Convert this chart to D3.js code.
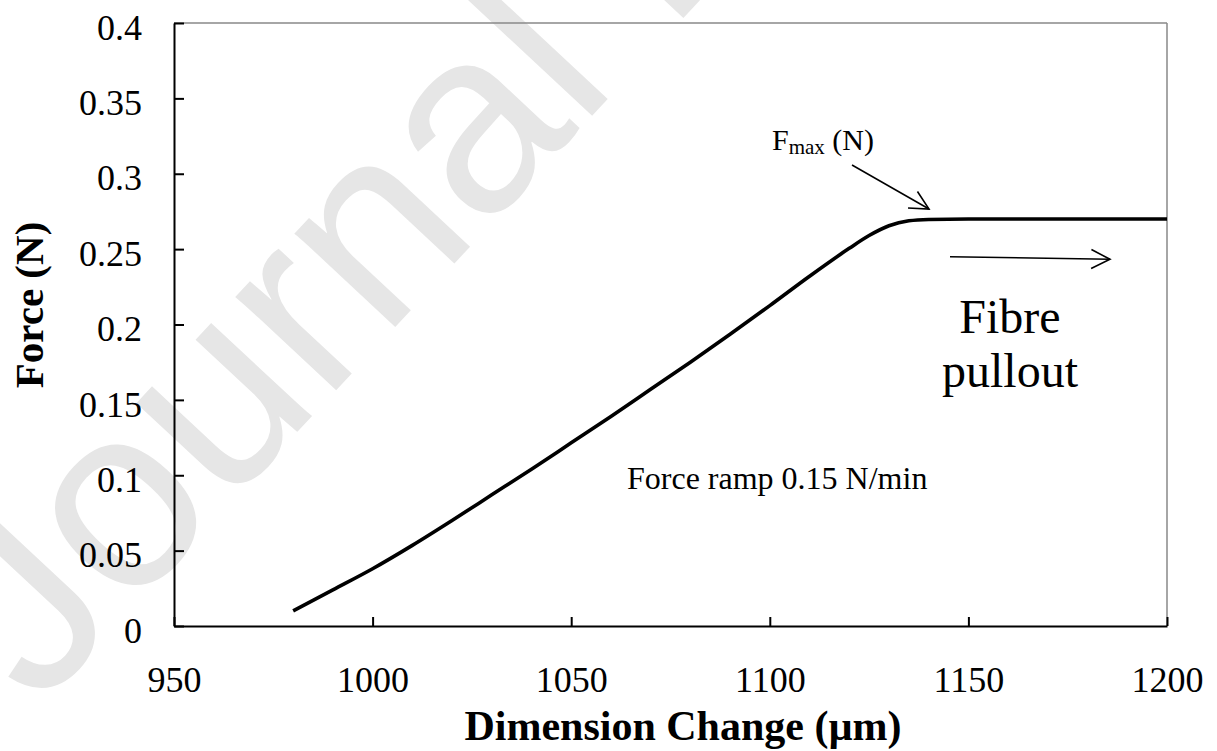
<!DOCTYPE html>
<html>
<head>
<meta charset="utf-8">
<script src="https://cdn.jsdelivr.net/npm/d3@7/dist/d3.min.js"></script>
<style>
  body { margin: 0; background: #fff; }
  svg text { font-family: "Liberation Serif", "Times New Roman", serif; }
</style>
</head>
<body>
<div id="viz"></div>
<script>
// data
var dimension = [980, 990, 1000, 1010, 1020, 1030, 1040, 1050, 1060, 1070, 1080, 1090, 1100, 1110, 1120, 1125, 1130, 1135, 1140, 1150, 1175, 1200];
var force     = [0.010, 0.024, 0.038, 0.0535, 0.070, 0.087, 0.104, 0.1215, 0.139, 0.157, 0.175, 0.1935, 0.2125, 0.232, 0.2505, 0.259, 0.2655, 0.2688, 0.2697, 0.2700, 0.2700, 0.2700];
var xTicks = [950, 1000, 1050, 1100, 1150, 1200];
var yTicks = [0, 0.05, 0.1, 0.15, 0.2, 0.25, 0.3, 0.35, 0.4];
var yTickLabels = ["0", "0.05", "0.1", "0.15", "0.2", "0.25", "0.3", "0.35", "0.4"];

var width = 1217;
var height = 751;

var x = d3.scaleLinear().domain([950, 1200]).range([174, 1167]);
var y = d3.scaleLinear().domain([0, 0.4]).range([626, 23]);

var svg = d3.select('#viz')
  .append('svg')
  .attr('width', width)
  .attr('height', height);

// watermark
svg.append('text')
  .attr('transform', 'translate(38,710) rotate(-47)')
  .style('font-family', '"Liberation Sans", Arial, sans-serif')
  .attr('font-size', 260)
  .attr('fill', '#e6e6e6')
  .text('Journal Pre-proof');

// frame: top + right in grey
svg.append('line')
  .attr('x1', x(950)).attr('x2', x(1200))
  .attr('y1', y(0.4)).attr('y2', y(0.4))
  .attr('stroke', '#888').attr('stroke-width', 1.5);
svg.append('line')
  .attr('x1', x(1200)).attr('x2', x(1200))
  .attr('y1', y(0.4)).attr('y2', y(0))
  .attr('stroke', '#888').attr('stroke-width', 1.5);

// axes
var yAxis = d3.axisLeft(y)
  .tickValues(yTicks)
  .tickFormat((d, i) => yTickLabels[i])
  .tickSizeInner(-10)
  .tickSizeOuter(0)
  .tickPadding(32);

var xAxis = d3.axisBottom(x)
  .tickValues(xTicks)
  .tickFormat(d3.format('d'))
  .tickSizeInner(-9)
  .tickSizeOuter(0)
  .tickPadding(40);

var gy = svg.append('g')
  .attr('transform', 'translate(' + x(950) + ',0)')
  .call(yAxis);
var gx = svg.append('g')
  .attr('transform', 'translate(0,' + y(0) + ')')
  .call(xAxis);

[gx, gy].forEach(function(g){
  g.select('.domain').attr('stroke', '#000').attr('stroke-width', 2);
  g.selectAll('.tick line').attr('stroke', '#000').attr('stroke-width', 2);
  g.selectAll('.tick text')
    .attr('fill', '#000')
    .style('font-family', '"Liberation Serif", "Times New Roman", serif')
    .attr('font-size', 36);
});
gy.selectAll('.tick text').attr('dy', '0.45em');
gx.selectAll('.tick text').attr('dy', '0.71em');

// curve
var pts = dimension.map((d, i) => [d, force[i]]);
var line = d3.line()
  .x(d => x(d[0]))
  .y(d => y(d[1]))
  .curve(d3.curveMonotoneX);

svg.append('path')
  .datum(pts)
  .attr('fill', 'none')
  .attr('stroke', '#000')
  .attr('stroke-width', 3.6)
  .attr('stroke-linejoin', 'round')
  .attr('d', line);

// axis titles
svg.append('text')
  .attr('x', 683)
  .attr('y', 740)
  .attr('text-anchor', 'middle')
  .attr('font-size', 42)
  .attr('font-weight', 'bold')
  .text('Dimension Change (µm)');

svg.append('text')
  .attr('transform', 'translate(43,305) rotate(-90)')
  .attr('text-anchor', 'middle')
  .attr('font-size', 41)
  .attr('font-weight', 'bold')
  .text('Force (N)');

// annotations
var fmax = svg.append('text')
  .attr('x', 772)
  .attr('y', 150)
  .attr('font-size', 30);
fmax.append('tspan').text('F');
fmax.append('tspan').attr('font-size', 21).attr('dy', 4).text('max');
fmax.append('tspan').attr('dy', -4).text(' (N)');

svg.append('text')
  .attr('x', 627)
  .attr('y', 489)
  .attr('font-size', 32)
  .text('Force ramp 0.15 N/min');

svg.append('text')
  .attr('x', 1010)
  .attr('y', 333)
  .attr('text-anchor', 'middle')
  .attr('font-size', 48)
  .text('Fibre');
svg.append('text')
  .attr('x', 1010)
  .attr('y', 387)
  .attr('text-anchor', 'middle')
  .attr('font-size', 48)
  .text('pullout');

// arrows (open heads)
function arrow(x1, y1, x2, y2) {
  var a = Math.atan2(y2 - y1, x2 - x1);
  var len = 21, spread = 0.47;
  var g = svg.append('g')
    .attr('stroke', '#000')
    .attr('stroke-width', 1.6)
    .attr('fill', 'none');
  g.append('line').attr('x1', x1).attr('y1', y1).attr('x2', x2).attr('y2', y2);
  g.append('path').attr('d',
    'M' + (x2 - len * Math.cos(a - spread)) + ',' + (y2 - len * Math.sin(a - spread)) +
    'L' + x2 + ',' + y2 +
    'L' + (x2 - len * Math.cos(a + spread)) + ',' + (y2 - len * Math.sin(a + spread)));
}
arrow(852, 165, 929, 209);
arrow(950, 256.7, 1110, 259.3);
</script>
</body>
</html>
